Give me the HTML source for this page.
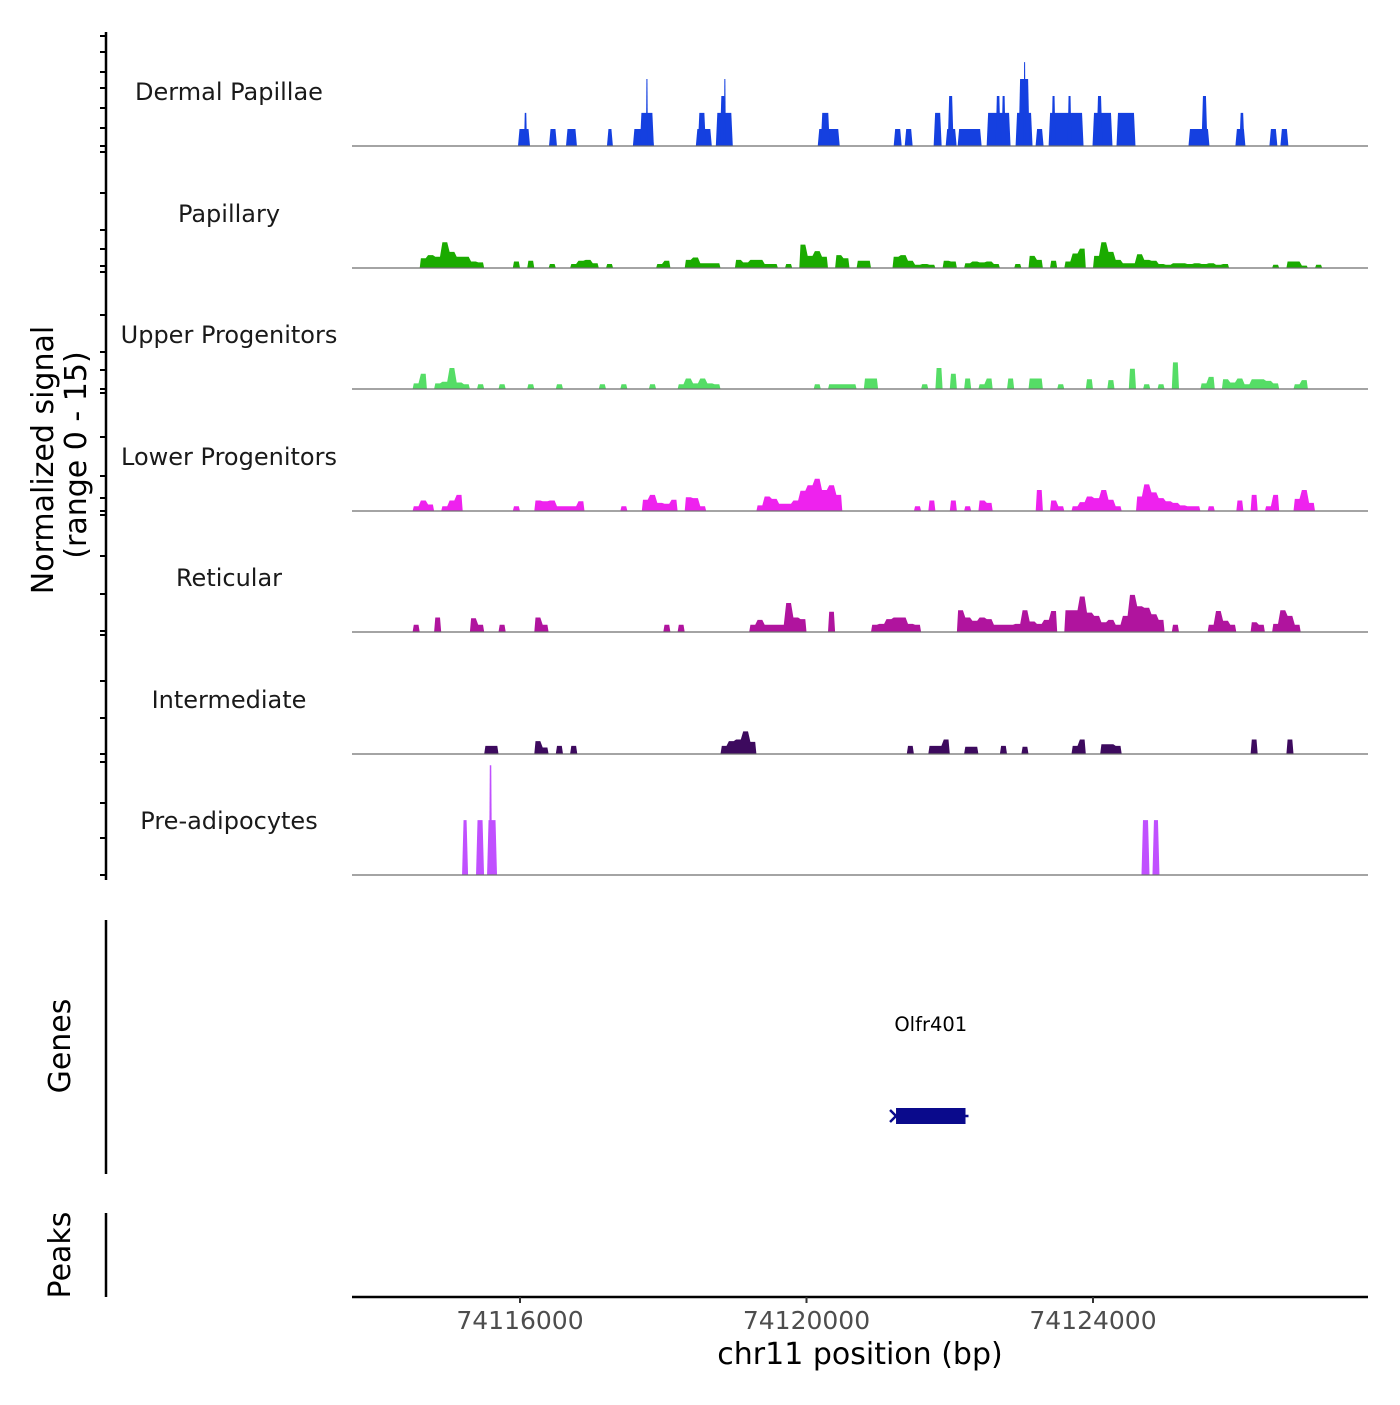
<!DOCTYPE html>
<html><head><meta charset="utf-8"><style>
html,body{margin:0;padding:0;background:#fff;}
svg text{font-family:"DejaVu Sans","Liberation Sans",sans-serif;}
</style></head><body>
<svg id="chart" width="1400" height="1400" viewBox="0 0 1400 1400" xmlns="http://www.w3.org/2000/svg">
<rect width="1400" height="1400" fill="#fff"/>
<g id="tracks"></g>
<g id="leftaxis"></g>
<text transform="translate(53,460) rotate(-90)" text-anchor="middle" font-size="30" fill="#000">Normalized signal</text>
<text transform="translate(86,455) rotate(-90)" text-anchor="middle" font-size="30" fill="#000">(range 0 - 15)</text>
<line x1="106" y1="920" x2="106" y2="1174" stroke="#000" stroke-width="2.5"/>
<text transform="translate(70,1046) rotate(-90)" text-anchor="middle" font-size="30" fill="#000">Genes</text>
<line x1="106" y1="1213" x2="106" y2="1297" stroke="#000" stroke-width="2.5"/>
<text transform="translate(70,1255) rotate(-90)" text-anchor="middle" font-size="30" fill="#000">Peaks</text>
<g id="genes"></g>
<g id="xaxis"></g>
<text x="860" y="1364" text-anchor="middle" font-size="30" fill="#000">chr11 position (bp)</text>
</svg>
<script>
// ---- data ----
const trackNames = ["Dermal Papillae","Papillary","Upper Progenitors","Lower Progenitors","Reticular","Intermediate","Pre-adipocytes"];
const trackColors = ["#1540e0","#1aab00","#55dd66","#ee22ee","#b0149e","#3d0a5e","#c050ff"];
const xTicks = [74116000,74120000,74124000];
const xTickLabels = ["74116000","74120000","74124000"];
const binStartBp = 74113700;
const binSizeBp = 100;
const dpStart = [74115972,74116056,74116405,74116642,74117214,74117576,74117674,74117758,74118455,74118483,74118734,74118790,74118846,74120157,74120199,74121217,74121371,74121775,74121943,74121971,74122110,74122515,74122640,74122724,74122919,74122961,74123031,74123198,74123380,74123421,74123645,74123993,74124049,74124328,74125333,74125514,74125988,74126044,74126463,74126616];
const dpEnd   = [74116140,74116098,74116516,74116795,74117297,74117869,74117869,74117786,74118678,74118595,74118971,74118874,74118874,74120464,74120325,74121329,74121482,74121887,74122096,74122054,74122445,74122849,74122710,74122780,74123156,74123115,74123059,74123310,74123868,74123477,74123700,74124272,74124133,74124593,74125626,74125598,74126128,74126114,74126574,74126728];
const dpVal   = [2.1,4.1,2.1,2.1,2.1,2.1,4.1,8.3,2.1,4.1,4.1,6.2,8.3,2.1,4.1,2.1,2.1,4.1,2.1,6.2,2.1,4.1,6.2,6.2,4.1,8.3,10.4,2.1,4.1,6.2,6.2,4.1,6.2,4.1,2.1,6.2,2.1,4.1,2.1,2.1];
const papBins = [9,10,11,12,13,14,15,16,17,22,24,27,30,31,32,33,35,42,43,46,47,48,49,50,53,54,55,56,57,58,60,62,63,64,65,67,68,70,71,75,76,77,78,79,80,82,83,85,86,87,88,89,92,94,95,97,99,100,101,103,104,105,106,107,108,109,110,111,112,113,114,115,116,117,118,119,120,121,128,130,131,132,134];
const papVals = [1.2,1.6,1.4,3.2,2.0,1.4,1.4,0.8,0.7,0.8,0.9,0.5,0.5,0.9,1.0,0.6,0.5,0.5,0.9,1.0,1.3,0.6,0.6,0.6,1.0,0.7,1.0,1.0,0.5,0.5,0.5,2.9,1.5,2.1,1.4,1.6,1.2,0.9,0.9,1.4,1.6,0.9,0.4,0.5,0.4,0.9,0.8,0.6,0.8,0.7,0.8,0.5,0.5,1.5,1.0,0.9,0.8,1.8,2.4,1.5,3.2,2.0,1.0,0.6,0.6,1.7,1.0,0.9,0.5,0.4,0.6,0.6,0.5,0.6,0.5,0.6,0.4,0.5,0.4,0.8,0.8,0.3,0.4];
const upBins = [8,9,11,12,13,14,15,17,20,24,28,34,37,41,45,46,47,48,49,50,64,66,67,68,69,71,72,79,81,83,85,87,88,91,94,95,98,102,105,108,110,112,114,118,119,121,122,123,124,125,126,127,128,131,132];
const upVals = [0.7,1.9,0.7,0.9,2.6,0.8,0.6,0.6,0.6,0.6,0.6,0.6,0.6,0.6,0.6,1.3,0.7,1.3,0.7,0.6,0.6,0.6,0.6,0.6,0.6,1.3,1.3,0.6,2.6,1.9,1.3,0.6,1.3,1.3,1.3,1.3,0.6,1.2,1.1,2.5,0.6,0.6,3.3,0.7,1.5,1.2,0.8,1.3,0.6,1.2,1.2,1.0,0.7,0.6,1.1];
const lpBins = [8,9,10,12,13,14,22,25,26,27,28,29,30,31,37,40,41,42,43,44,46,47,48,56,57,58,59,60,61,62,63,64,65,66,67,78,80,83,85,87,88,95,97,98,100,101,102,103,104,105,106,109,110,111,112,113,114,115,116,117,119,123,125,127,128,131,132,133];
const lpVals = [0.6,1.3,0.8,0.6,1.3,2.0,0.6,1.3,1.2,1.3,0.6,0.6,0.6,1.2,0.6,1.4,2.0,1.0,0.9,1.4,1.7,1.6,0.6,0.7,1.8,1.5,0.9,0.9,1.3,2.5,3.2,4.0,2.6,3.2,2.0,0.6,1.3,1.3,0.6,1.3,1.0,2.6,1.3,0.6,0.6,1.1,1.8,1.6,2.6,1.4,0.6,1.8,3.3,2.3,1.6,1.2,1.0,0.7,0.6,0.6,0.6,1.3,2.0,0.6,2.0,1.5,2.6,1.0];
const retBins = [8,11,16,17,20,25,26,43,45,55,56,57,58,59,60,61,62,66,72,73,74,75,76,77,78,84,85,86,87,88,89,90,91,92,93,94,95,96,97,99,100,101,102,103,104,105,106,107,108,109,110,111,112,114,119,120,121,122,125,126,128,129,130,131];
const retVals = [0.9,1.8,1.7,0.9,0.9,1.8,0.9,0.9,0.9,0.9,1.5,0.9,0.9,0.9,3.6,1.8,1.6,2.5,0.9,1.0,1.6,1.8,1.8,1.0,0.9,2.7,1.8,1.4,1.8,1.6,0.9,0.9,0.9,1.0,2.7,1.3,1.0,1.5,2.6,2.7,2.7,4.4,2.4,2.0,1.2,1.5,0.9,2.0,4.6,3.2,3.0,2.2,1.5,0.9,0.9,2.6,1.4,0.9,1.2,0.9,1.0,2.7,2.0,0.9];
const intBins = [18,19,25,26,28,30,51,52,53,54,55,77,80,81,82,85,86,90,93,100,101,104,105,106,125,130];
const intVals = [1.0,1.0,1.6,0.8,1.0,1.0,1.0,1.6,1.8,2.8,1.5,1.0,1.0,1.0,1.8,0.9,0.9,1.0,0.9,1.0,1.8,1.2,1.2,1.0,1.8,1.8];
const paStart = [74115191,74115386,74115540,74115568,74124677,74124830];
const paEnd   = [74115275,74115498,74115679,74115609,74124789,74124928];
const paVal   = [6.8,6.8,6.8,13.6,6.8,6.8];
const geneName = "Olfr401";
const geneStart = 74121250;
const geneEnd = 74122220;

// ---- scales ----
const NS = "http://www.w3.org/2000/svg";
const X0 = 352, X1 = 1368;
function xScale(bp){ return 520 + (bp - 74116000) * (1093 - 520) / 8000; }
const baselines = [146,268,389,511,632,754,875];
const trackH = 121, vMax = 15;
function yScale(v, t){ return baselines[t] - v / vMax * trackH; }

const tracks = document.getElementById('tracks');
function mk(tag, attrs, parent){ const e = document.createElementNS(NS, tag); for (const k in attrs) e.setAttribute(k, attrs[k]); parent.appendChild(e); return e; }

function drawPeaks(t, starts, ends, vals){
  const g = mk('g', {}, tracks);
  
  
  for (let i = 0; i < starts.length; i++){
    const a = xScale(starts[i]), b = xScale(ends[i]), y = yScale(vals[i], t), y0 = baselines[t];
    const tp = Math.min(1.5, (b - a) / 4);
    const p = mk('polygon', {points: `${a},${y0} ${a+tp},${y} ${b-tp},${y} ${b},${y0}`, fill: trackColors[t]}, g);
    
    
  }
}
function drawBins(t, bins, vals){
  const n = 142, arr = new Array(n).fill(0);
  bins.forEach((b, i) => { arr[b] = vals[i]; });
  const y0 = baselines[t];
  let d = '';
  let i = 0;
  while (i < n){
    if (arr[i] === 0){ i++; continue; }
    let pts = [];
    const xs = xScale(binStartBp + i * binSizeBp);
    pts.push([xs, y0]);
    while (i < n && arr[i] !== 0){
      const a = xScale(binStartBp + i * binSizeBp), b = xScale(binStartBp + (i + 1) * binSizeBp);
      const y = yScale(arr[i], t);
      pts.push([a + 1.2, y]); pts.push([b - 1.2, y]);
      i++;
    }
    pts.push([xScale(binStartBp + i * binSizeBp), y0]);
    d += 'M' + pts.map(p => p[0].toFixed(1) + ',' + p[1].toFixed(1)).join('L') + 'Z';
  }
  const p = mk('path', {d: d, fill: trackColors[t]}, tracks);
  
  
}

drawPeaks(0, dpStart, dpEnd, dpVal);
drawBins(1, papBins, papVals);
drawBins(2, upBins, upVals);
drawBins(3, lpBins, lpVals);
drawBins(4, retBins, retVals);
drawBins(5, intBins, intVals);
drawPeaks(6, paStart, paEnd, paVal);

for (let t = 0; t < 7; t++){
  const l = mk('line', {x1: X0, x2: X1, y1: baselines[t], y2: baselines[t], stroke: '#6e6e6e', 'stroke-width': 1.2}, tracks);
  
  
  const tx = mk('text', {x: 229, y: baselines[t] - 46, 'text-anchor': 'middle', 'font-size': 24, fill: '#1a1a1a'}, tracks);
  
  
  tx.textContent = trackNames[t];
}

const la = document.getElementById('leftaxis');
mk('line', {x1: 106, x2: 106, y1: 32, y2: 880, stroke: '#000', 'stroke-width': 2.5}, la);
const tickYs = [36,52,72,88,108,128,146,152,193,230,249,266,272,315,352,370,389,393,437,476,498,511,515,556,594,631,635,681,718,754,762,803,838,875];
tickYs.forEach(y => {
  const tk = mk('line', {x1: 100, x2: 106, y1: y, y2: y, stroke: '#000', 'stroke-width': 2}, la);
  
  
});

const gg = document.getElementById('genes');
const gs = xScale(geneStart), ge = xScale(geneEnd);
const gl = mk('text', {x: (gs + ge) / 2, y: 1031, 'text-anchor': 'middle', 'font-size': 19.5, fill: '#000'}, gg);


gl.textContent = geneName;
const gr = mk('rect', {x: gs, y: 1108, width: ge - gs, height: 16, fill: '#0a0a8c'}, gg);


mk('path', {d: `M${gs-6},1110 L${gs},1116 L${gs-6},1122`, stroke: '#0a0a8c', 'stroke-width': 2.5, fill: 'none'}, gg);
mk('line', {x1: ge, x2: ge + 3, y1: 1116, y2: 1116, stroke: '#0a0a8c', 'stroke-width': 2.5}, gg);

const xa = document.getElementById('xaxis');
mk('line', {x1: X0, x2: X1, y1: 1297, y2: 1297, stroke: '#000', 'stroke-width': 2.5}, xa);
xTicks.forEach((v, i) => {
  const x = xScale(v);
  const tk = mk('line', {x1: x, x2: x, y1: 1297, y2: 1303, stroke: '#333', 'stroke-width': 2}, xa);
  
  
  const tl = mk('text', {x: x, y: 1329, 'text-anchor': 'middle', 'font-size': 25, fill: '#4d4d4d'}, xa);
  
  
  tl.textContent = xTickLabels[i];
});
</script>
</body></html>
